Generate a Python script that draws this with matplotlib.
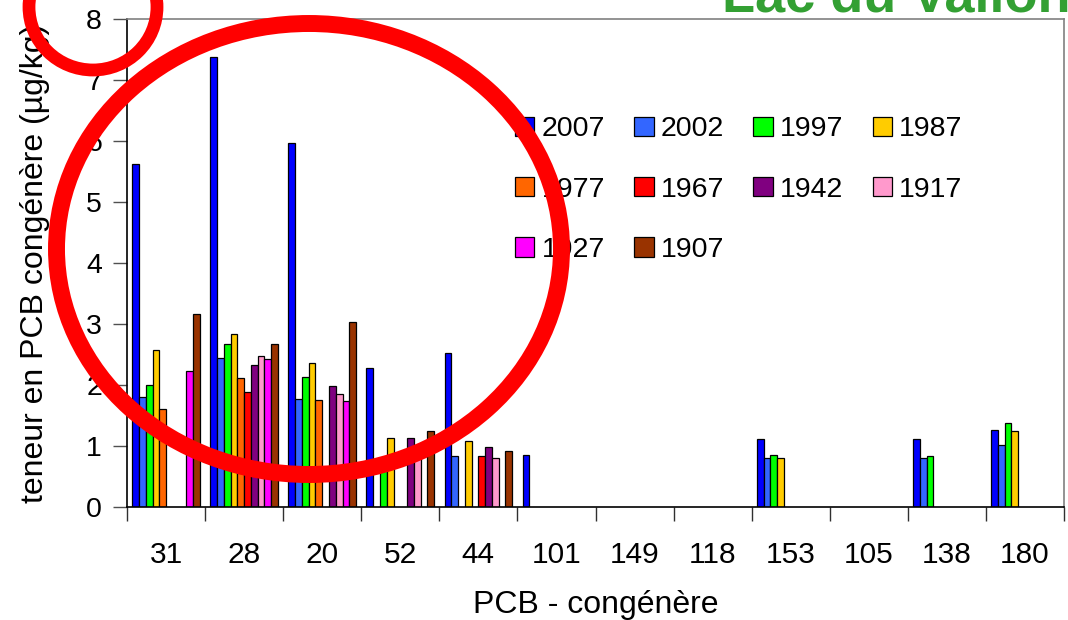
import numpy as np
import matplotlib
matplotlib.use("Agg")
import matplotlib.pyplot as plt
from matplotlib.patches import Ellipse

plt.rcParams['font.family'] = ['Liberation Sans', 'DejaVu Sans']

categories = ['31', '28', '20', '52', '44', '101', '149', '118', '153', '105', '138', '180']
years = ['2007', '2002', '1997', '1987', '1977', '1967', '1942', '1917', '1927', '1907']
nan = np.nan
v2007 = [5.63, 7.38, 5.97, 2.28, 2.53, 0.86, nan, nan, 1.12, nan, 1.11, 1.26]
v2002 = [1.81, 2.44, 1.77, nan, 0.84, nan, nan, nan, 0.81, nan, 0.81, 1.01]
v1997 = [2.00, 2.67, 2.13, 0.81, nan, nan, nan, nan, 0.85, nan, 0.84, 1.37]
v1987 = [2.58, 2.84, 2.36, 1.13, 1.08, nan, nan, nan, 0.81, nan, nan, 1.24]
v1977 = [1.61, 2.12, 1.76, nan, nan, nan, nan, nan, nan, nan, nan, nan]
v1967 = [nan, 1.89, nan, nan, 0.84, nan, nan, nan, nan, nan, nan, nan]
v1942 = [nan, 2.33, 1.99, 1.13, 0.99, nan, nan, nan, nan, nan, nan, nan]
v1917 = [nan, 2.48, 1.85, 0.85, 0.81, nan, nan, nan, nan, nan, nan, nan]
v1927 = [2.23, 2.42, 1.74, nan, nan, nan, nan, nan, nan, nan, nan, nan]
v1907 = [3.17, 2.67, 3.03, 1.25, 0.92, nan, nan, nan, nan, nan, nan, nan]
series = [v2007, v2002, v1997, v1987, v1977, v1967, v1942, v1917, v1927, v1907]
colors = ['#0000FF', '#3366FF', '#00FF00', '#FFCC00', '#FF6600',
          '#FF0000', '#800080', '#FF99CC', '#FF00FF', '#993300']

W, H = 1068, 620
fig = plt.figure(figsize=(W / 100, H / 100), dpi=100)
ax = fig.add_axes([127 / W, 1 - 507 / H, (1064 - 127) / W, (507 - 19) / H])

n = len(series)
bw = 0.0867
start = (1 - n * bw) / 2
x = np.arange(len(categories))
handles = []
for k, (vals, c, lab) in enumerate(zip(series, colors, years)):
    vals = np.asarray(vals, dtype=float)
    m = np.isfinite(vals)
    xs = x[m] + start + k * bw
    b = ax.bar(xs, vals[m], width=bw, align='edge', color=c,
               edgecolor='black', linewidth=0.9, label=lab)
    handles.append(b)

ax.set_xlim(0, len(categories))
ax.set_ylim(0, 8)
ax.set_yticks(range(0, 9))
ax.set_xticks(np.arange(0, len(categories) + 1))
ax.set_xticklabels([])
ax.set_xticks(x + 0.5, minor=True)
ax.set_xticklabels(categories, minor=True)
ax.tick_params(axis='x', which='major', length=10, width=1, color='#303030', direction='out')
ax.tick_params(axis='x', which='minor', length=0, pad=24.5, labelsize=21.5)
ax.tick_params(axis='y', length=10, width=1, color='#505050', direction='out', pad=8, labelsize=20.5)

for s in ['top', 'right']:
    ax.spines[s].set_color('#808080')
    ax.spines[s].set_linewidth(1.2)
for s in ['left', 'bottom']:
    ax.spines[s].set_color('black')
    ax.spines[s].set_linewidth(1.2)

ax.set_xlabel('PCB - congénère', fontsize=23, labelpad=15)
ax.set_ylabel('teneur en PCB congénère (µg/kg)', fontsize=23, labelpad=26)

# legend filled row-wise: reorder for matplotlib's column-wise filling
order = [0, 4, 8, 1, 5, 9, 2, 6, 3, 7]
leg = fig.legend(handles=[handles[i] for i in order], labels=[years[i] for i in order],
                 ncol=4, frameon=False,
                 loc='upper left', bbox_to_anchor=(515 / W, 1 - 116.5 / H),
                 fontsize=20.5, handlelength=0.68, handleheight=0.68,
                 handletextpad=0.25, columnspacing=1.03, labelspacing=1.2,
                 borderpad=0, borderaxespad=0)

fig.text(722 / W, 1 - 12 / H, 'Lac du Vallon', fontsize=39, fontweight='bold',
         color='#33A033', ha='left', va='baseline')

e1 = Ellipse((309 / W, 1 - 249 / H), 2 * 252.5 / W, 2 * 225.5 / H,
             transform=fig.transFigure, fill=False, edgecolor='#FF0000',
             linewidth=12.2, zorder=10)
e2 = Ellipse((93 / W, 1 - 7 / H), 2 * 64 / W, 2 * 63 / H,
             transform=fig.transFigure, fill=False, edgecolor='#FF0000',
             linewidth=9.2, zorder=10)
fig.add_artist(e1)
fig.add_artist(e2)

fig.savefig('out.png', dpi=100)
